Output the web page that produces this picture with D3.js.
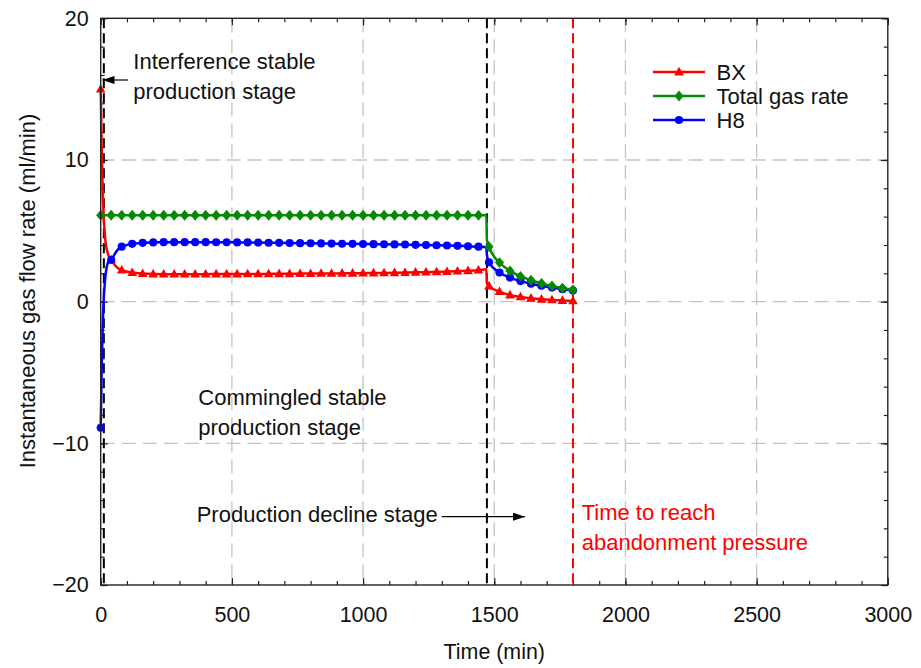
<!DOCTYPE html>
<html>
<head>
<meta charset="utf-8">
<script src="https://cdn.jsdelivr.net/npm/d3@7/dist/d3.min.js"></script>
<style>
  html, body { margin: 0; padding: 0; background: #fff; }
  svg { display: block; font-family: "Liberation Sans", Arial, sans-serif; }
</style>
</head>
<body>
<svg id="chart" width="921" height="668"></svg>
<script>
// Time (min)
const time = [0, 4, 8, 12, 16, 20, 28, 40, 60, 80,
  120, 160, 200, 240, 280, 320, 360, 400, 440, 480, 520, 560, 600, 640, 680, 720,
  760, 800, 840, 880, 920, 960, 1000, 1040, 1080, 1120, 1160, 1200, 1240, 1280,
  1320, 1360, 1400, 1440, 1470, 1472, 1480, 1520, 1560, 1600, 1640, 1680, 1720, 1760, 1800];

// BX instantaneous gas flow rate (ml/min)
const bx = [15.0, 10.6, 7.6, 5.8, 4.7, 4.0, 3.35, 2.95, 2.45, 2.22,
  2.05, 1.98, 1.95, 1.94, 1.94, 1.94, 1.94, 1.94, 1.95, 1.95, 1.95, 1.96, 1.96, 1.96, 1.97, 1.97,
  1.98, 1.98, 1.99, 1.99, 2.0, 2.0, 2.01, 2.02, 2.03, 2.04, 2.05, 2.07, 2.08, 2.1,
  2.12, 2.15, 2.18, 2.22, 2.28, 1.3, 1.1, 0.71, 0.47, 0.33, 0.24, 0.17, 0.12, 0.08, 0.05];

// Total gas rate (ml/min)
const total = [6.1, 6.1, 6.1, 6.1, 6.1, 6.1, 6.1, 6.1, 6.1, 6.1,
  6.1, 6.1, 6.1, 6.1, 6.1, 6.1, 6.1, 6.1, 6.1, 6.1, 6.1, 6.1, 6.1, 6.1, 6.1, 6.1,
  6.1, 6.1, 6.1, 6.1, 6.1, 6.1, 6.1, 6.1, 6.1, 6.1, 6.1, 6.1, 6.1, 6.1,
  6.1, 6.1, 6.1, 6.1, 6.1, 4.4, 3.88, 2.76, 2.17, 1.78, 1.51, 1.29, 1.11, 0.96, 0.83];

// H8 instantaneous gas flow rate (ml/min)
const h8 = [-8.9, -4.5, -1.5, 0.3, 1.4, 2.1, 2.75, 2.95, 3.55, 3.88,
  4.08, 4.15, 4.18, 4.2, 4.2, 4.2, 4.2, 4.2, 4.19, 4.19, 4.18, 4.18, 4.17, 4.16, 4.15, 4.14,
  4.13, 4.12, 4.11, 4.1, 4.09, 4.08, 4.07, 4.06, 4.05, 4.04, 4.03, 4.01, 4.0, 3.98,
  3.96, 3.94, 3.91, 3.88, 3.84, 3.3, 2.78, 2.05, 1.7, 1.45, 1.27, 1.12, 0.99, 0.88, 0.78];

// Axis ticks
const xTicks = [0, 500, 1000, 1500, 2000, 2500, 3000];
const yTicks = [-20, -10, 0, 10, 20];

// Stage boundaries (min)
const interferenceEnd = 12;
const commingledEnd = 1472;
const abandonmentTime = 1800;

const seriesNames = ["BX", "Total gas rate", "H8"];
const seriesValues = [bx, total, h8];
const seriesColors = ["#ff0000", "#068a06", "#0000ff"];
const seriesMarkers = ["triangle", "diamond", "circle"];

const svg = d3.select("#chart");
const plotL = 100.7, plotR = 887.8, plotT = 18.3, plotB = 585;

const x = d3.scaleLinear().domain([0, 3000]).range([plotL, plotR]);
const y = d3.scaleLinear().domain([-20, 20]).range([plotB, plotT]);

// Grid lines
const grid = svg.append("g").attr("stroke", "#c4c4c4").attr("stroke-width", 1.3)
  .attr("stroke-dasharray", "14,7").attr("fill", "none");
xTicks.filter(v => v > 0 && v < 3000).forEach(v => {
  grid.append("line").attr("x1", x(v)).attr("x2", x(v)).attr("y1", plotT).attr("y2", plotB);
});
yTicks.filter(v => v > -20 && v < 20).forEach(v => {
  grid.append("line").attr("x1", plotL).attr("x2", plotR).attr("y1", y(v)).attr("y2", y(v));
});

// Axes with inward ticks on all four sides
const minorX = d3.range(0, 3001, 100);
const minorY = d3.range(-20, 21, 2);
function styleAxis(g) {
  g.select(".domain").remove();
  g.selectAll("line").attr("stroke", "#222").attr("stroke-width", 1.2);
}
const fontTick = 21.5;
svg.append("g").attr("transform", `translate(0,${plotB})`)
  .call(d3.axisBottom(x).tickValues(minorX).tickSize(-4).tickFormat(""))
  .call(styleAxis);
svg.append("g").attr("transform", `translate(0,${plotB})`)
  .call(d3.axisBottom(x).tickValues(xTicks).tickSize(-7).tickPadding(22).tickFormat(d3.format("d")))
  .call(styleAxis)
  .call(g => g.selectAll("text").attr("font-size", fontTick).attr("fill", "#111")
    .attr("font-family", "Liberation Sans, Arial, sans-serif"));
svg.append("g").attr("transform", `translate(0,${plotT})`)
  .call(d3.axisTop(x).tickValues(minorX).tickSize(-4).tickFormat("")).call(styleAxis);
svg.append("g").attr("transform", `translate(0,${plotT})`)
  .call(d3.axisTop(x).tickValues(xTicks).tickSize(-7).tickFormat("")).call(styleAxis);

svg.append("g").attr("transform", `translate(${plotL},0)`)
  .call(d3.axisLeft(y).tickValues(minorY).tickSize(-4).tickFormat("")).call(styleAxis);
svg.append("g").attr("transform", `translate(${plotL},0)`)
  .call(d3.axisLeft(y).tickValues(yTicks).tickSize(-7).tickPadding(12).tickFormat(d3.format("d")))
  .call(styleAxis)
  .call(g => g.selectAll("text").attr("font-size", fontTick).attr("fill", "#111")
    .attr("font-family", "Liberation Sans, Arial, sans-serif"));
svg.append("g").attr("transform", `translate(${plotR},0)`)
  .call(d3.axisRight(y).tickValues(minorY).tickSize(-4).tickFormat("")).call(styleAxis);
svg.append("g").attr("transform", `translate(${plotR},0)`)
  .call(d3.axisRight(y).tickValues(yTicks).tickSize(-7).tickFormat("")).call(styleAxis);

// Stage boundary lines
function vline(t, color) {
  svg.append("line").attr("x1", x(t)).attr("x2", x(t)).attr("y1", plotT).attr("y2", plotB)
    .attr("stroke", color).attr("stroke-width", 2).attr("stroke-dasharray", "10,5");
}
vline(interferenceEnd, "#000");
vline(commingledEnd, "#000");
vline(abandonmentTime, "#ff0000");

// Marker shapes
function markerPath(type) {
  if (type === "triangle") return "M0,-5.2L4.8,3.4L-4.8,3.4Z";
  if (type === "diamond") return "M0,-5.4L4.6,0L0,5.4L-4.6,0Z";
  return d3.symbol().type(d3.symbolCircle).size(52)();
}

const line = d3.line().curve(d3.curveMonotoneX)
  .x(d => x(d[0])).y(d => y(d[1]));

const order = [0, 2, 1];
order.forEach(i => {
  const pts = time.map((t, j) => [t, seriesValues[i][j]]);
  svg.append("path").datum(pts).attr("d", line)
    .attr("fill", "none").attr("stroke", seriesColors[i]).attr("stroke-width", 2.5)
    .attr("stroke-linejoin", "round");
  svg.append("g").selectAll("path").data(pts.filter(p => p[0] % 40 === 0)).join("path")
    .attr("transform", p => `translate(${x(p[0])},${y(p[1])})`)
    .attr("d", markerPath(seriesMarkers[i]))
    .attr("fill", seriesColors[i]);
});

// Plot frame
svg.append("rect").attr("x", plotL).attr("y", plotT)
  .attr("width", plotR - plotL).attr("height", plotB - plotT)
  .attr("fill", "none").attr("stroke", "#222").attr("stroke-width", 1.4);

// Legend
const legend = svg.append("g");
seriesNames.forEach((name, i) => {
  const ly = 72 + i * 24;
  legend.append("line").attr("x1", 653).attr("x2", 705).attr("y1", ly).attr("y2", ly)
    .attr("stroke", seriesColors[i]).attr("stroke-width", 2.5);
  legend.append("path").attr("transform", `translate(679,${ly})`)
    .attr("d", markerPath(seriesMarkers[i])).attr("fill", seriesColors[i]);
  legend.append("text").attr("x", 716.5).attr("y", ly + 7.8)
    .attr("font-size", 22).attr("fill", "#111").text(name);
});

// Arrow heads
const defs = svg.append("defs");
defs.append("marker").attr("id", "arrow").attr("viewBox", "0 0 12 8")
  .attr("refX", 12).attr("refY", 4).attr("markerWidth", 12).attr("markerHeight", 8)
  .attr("markerUnits", "userSpaceOnUse").attr("orient", "auto")
  .append("path").attr("d", "M0,0L12,4L0,8Z").attr("fill", "#000");

// Annotations
const ann = svg.append("g").attr("font-size", 22).attr("fill", "#111");
ann.append("text").attr("x", 133.3).attr("y", 69.3).text("Interference stable");
ann.append("text").attr("x", 133.3).attr("y", 98.8).text("production stage");
svg.append("line").attr("x1", 128).attr("x2", 102.5).attr("y1", 80).attr("y2", 80)
  .attr("stroke", "#000").attr("stroke-width", 1.2).attr("marker-end", "url(#arrow)");

ann.append("text").attr("x", 198.3).attr("y", 405).text("Commingled stable");
ann.append("text").attr("x", 198.3).attr("y", 435).text("production stage");

ann.append("text").attr("x", 196.7).attr("y", 521.7).text("Production decline stage");
svg.append("line").attr("x1", 441.7).attr("x2", 525).attr("y1", 516.7).attr("y2", 516.7)
  .attr("stroke", "#000").attr("stroke-width", 1.2).attr("marker-end", "url(#arrow)");

const redText = svg.append("g").attr("font-size", 22).attr("fill", "#ff0000");
redText.append("text").attr("x", 581.7).attr("y", 520).text("Time to reach");
redText.append("text").attr("x", 581.7).attr("y", 549.5).text("abandonment pressure");

// Axis titles
svg.append("text").attr("x", (plotL + plotR) / 2).attr("y", 659.3)
  .attr("text-anchor", "middle").attr("font-size", 21.4).attr("fill", "#111")
  .text("Time (min)");
svg.append("text").attr("transform", "translate(35,291) rotate(-90)")
  .attr("text-anchor", "middle").attr("font-size", 22).attr("fill", "#111")
  .text("Instantaneous gas flow rate (ml/min)");
</script>
</body>
</html>
